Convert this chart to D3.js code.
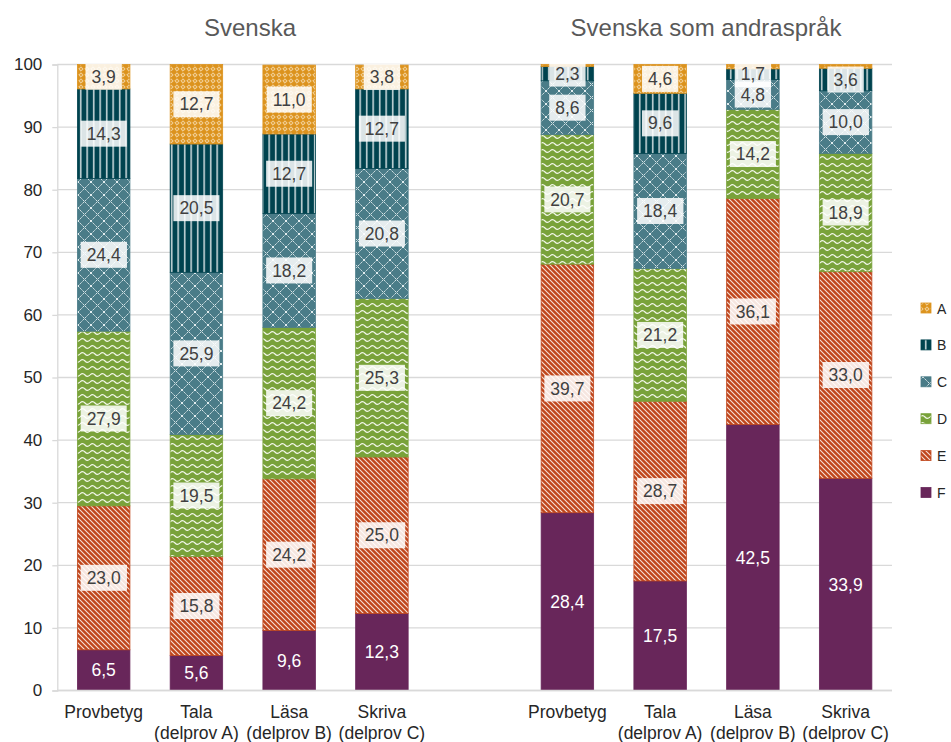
<!DOCTYPE html>
<html><head><meta charset="utf-8">
<script src="https://cdn.jsdelivr.net/npm/d3@7"></script>
<style>body{margin:0;background:#fff}svg{display:block;font-family:"Liberation Sans",Arial,sans-serif}</style>
</head><body>
<svg id="c" width="951" height="742"></svg>
<script>
const grades = ["F","E","D","C","B","A"];
const groups = ["Svenska", "Svenska som andraspråk"];
const categories = ["Provbetyg", "Tala|(delprov A)", "Läsa|(delprov B)", "Skriva|(delprov C)"];
const yTicks = [0,10,20,30,40,50,60,70,80,90,100];

const svenskaF = [6.5, 5.6, 9.6, 12.3];
const svenskaE = [23.0, 15.8, 24.2, 25.0];
const svenskaD = [27.9, 19.5, 24.2, 25.3];
const svenskaC = [24.4, 25.9, 18.2, 20.8];
const svenskaB = [14.3, 20.5, 12.7, 12.7];
const svenskaA = [3.9, 12.7, 11.0, 3.8];

const svaF = [28.4, 17.5, 42.5, 33.9];
const svaE = [39.7, 28.7, 36.1, 33.0];
const svaD = [20.7, 21.2, 14.2, 18.9];
const svaC = [8.6, 18.4, 4.8, 10.0];
const svaB = [2.3, 9.6, 1.7, 3.6];
const svaA = [0.3, 4.6, 0.7, 0.6];

const baseColors = {A:"#dc931e", B:"#00434f", C:"#4a7c88", D:"#79a23a", E:"#c0461c", F:"#68265a"};

const seriesBy = [
  {F:svenskaF,E:svenskaE,D:svenskaD,C:svenskaC,B:svenskaB,A:svenskaA},
  {F:svaF,E:svaE,D:svaD,C:svaC,B:svaB,A:svaA}
];
const rows = [];
const keys = [];
groups.forEach((g,gi)=>{
  categories.forEach((c,ci)=>{
    const key = gi+"_"+ci;
    const r = {key, cat:c};
    grades.forEach(k=> r[k] = seriesBy[gi][k][ci]);
    rows.push(r); keys.push(key);
  });
  if (gi===0) keys.push("gap");
});

const svg = d3.select("#c");
const x = d3.scaleBand().domain(keys).range([57.3, 892]).paddingInner(0.434).paddingOuter(0.217);
const y = d3.scaleLinear().domain([0,100]).range([690.5, 64.5]);

const defs = svg.append("defs");
function pat(id,w,h,bg,draw){
  const p = defs.append("pattern").attr("id",id).attr("patternUnits","userSpaceOnUse").attr("width",w).attr("height",h);
  p.append("rect").attr("width",w).attr("height",h).attr("fill",bg);
  draw(p);
}
pat("pA",6,6,baseColors.A,p=>{
  p.append("path").attr("d","M3,0.8 L5.2,3 L3,5.2 L0.8,3 Z").attr("fill","none").attr("stroke","#fbe9c8").attr("stroke-width",0.8);
  p.append("circle").attr("cx",3).attr("cy",3).attr("r",0.6).attr("fill","#fbe9c8");
});
pat("pB",6.5,10,baseColors.B,p=>{
  p.append("rect").attr("x",2).attr("y",0).attr("width",1.4).attr("height",10).attr("fill","#dfe9eb");
});
pat("pC",13,13,baseColors.C,p=>{
  p.append("path").attr("d","M0,0 L13,13 M13,0 L0,13").attr("stroke","#e4eef0").attr("stroke-width",1).attr("stroke-dasharray","1.6 0.8");
});
pat("pD",10,7,baseColors.D,p=>{
  p.append("path").attr("d","M0,4 Q2.5,1.2 5,4 T10,4").attr("fill","none").attr("stroke","#f3f7ea").attr("stroke-width",1.2);
});
pat("pE",5,5,baseColors.E,p=>{
  p.append("path").attr("d","M-1,-1 L6,6 M-1,4 L1,6 M4,-1 L6,1").attr("stroke","#f6e0d6").attr("stroke-width",1.1);
});
const fillFor = k => k==="F" ? baseColors.F : "url(#p"+k+")";

svg.append("g").selectAll("line").data(yTicks).join("line")
  .attr("x1",57.3).attr("x2",892).attr("y1",d=>y(d)).attr("y2",d=>y(d))
  .attr("stroke","#d9d9d9").attr("stroke-width",1.3);

const yAxis = svg.append("g").attr("transform","translate(57.3,0)")
  .call(d3.axisLeft(y).tickValues(yTicks).tickSize(5).tickPadding(10));
yAxis.select(".domain").attr("stroke","#d9d9d9").attr("stroke-width",1.3);
yAxis.selectAll(".tick line").attr("stroke","#d9d9d9").attr("stroke-width",1.3);
yAxis.selectAll("text").attr("font-size",17).attr("fill","#262626").attr("font-family","Liberation Sans, Arial, sans-serif");

const stack = d3.stack().keys(grades);
const stacked = stack(rows);
const layers = svg.append("g").selectAll("g").data(stacked).join("g");
layers.selectAll("rect").data(d=>d.map(v=>({k:d.key,v}))).join("rect")
  .attr("x",d=>x(d.v.data.key)).attr("width",x.bandwidth())
  .attr("y",d=>y(d.v[1])).attr("height",d=>y(d.v[0])-y(d.v[1]))
  .attr("fill",d=>fillFor(d.k))
  .attr("stroke",d=>baseColors[d.k]).attr("stroke-width",0.8);

const lab = svg.append("g");
stacked.forEach(layer=>{
  layer.forEach(v=>{
    const val = v.data[layer.key];
    if (val < 1) return;
    const cx = x(v.data.key) + x.bandwidth()/2;
    const cy = y((v[0]+v[1])/2);
    const txt = d3.format(".1f")(val).replace(".",",");
    const g = lab.append("g");
    const t = g.append("text").attr("x",cx).attr("y",cy).attr("dy","0.35em")
      .attr("text-anchor","middle").attr("font-size",17.5).text(txt)
      .attr("fill", layer.key==="F" ? "#ffffff" : "#404040");
    if (layer.key!=="F"){
      const bb = t.node().getBBox();
      g.insert("rect","text").attr("x",bb.x-6).attr("y",cy-13).attr("width",bb.width+12).attr("height",26)
        .attr("fill","#ffffff").attr("fill-opacity",0.86);
    }
  });
});

svg.append("line").attr("x1",57.3).attr("x2",892).attr("y1",y(0)).attr("y2",y(0)).attr("stroke","#d9d9d9").attr("stroke-width",1.3);

rows.forEach(r=>{
  const lines = r.cat.split("|");
  const t = svg.append("text").attr("text-anchor","middle").attr("font-size",17.5).attr("fill","#262626");
  lines.forEach((ln,i)=>{
    t.append("tspan").attr("x",x(r.key)+x.bandwidth()/2).attr("y",718+i*21).text(ln);
  });
});

const titleX = [250, 706];
groups.forEach((g,i)=>{
  svg.append("text").attr("x",titleX[i]).attr("y",36).attr("text-anchor","middle")
    .attr("font-size",24).attr("fill","#595959").text(g);
});

const legendOrder = ["A","B","C","D","E","F"];
const lg = svg.append("g");
legendOrder.forEach((k,i)=>{
  const yy = 303 + i*36.9;
  lg.append("rect").attr("x",921).attr("y",yy).attr("width",10).attr("height",10).attr("fill",fillFor(k)).attr("stroke",baseColors[k]).attr("stroke-width",0.8);
  lg.append("text").attr("x",937).attr("y",yy+10.5).attr("font-size",14).attr("fill","#262626").text(k);
});
</script>
</body></html>
